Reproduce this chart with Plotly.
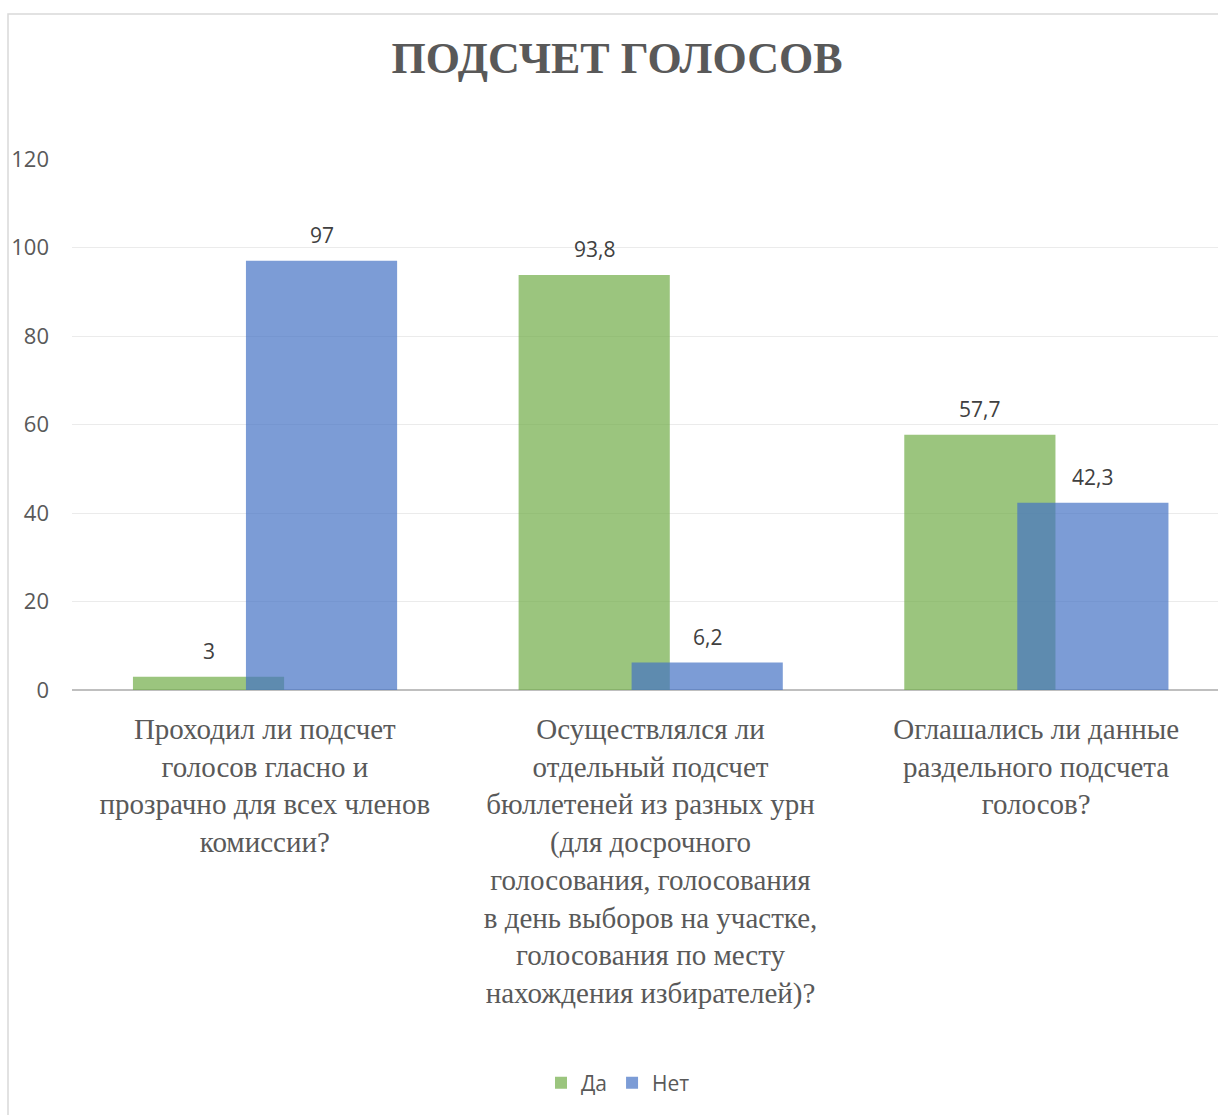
import plotly.graph_objects as go

categories = [
    "Проходил ли подсчет<br>голосов гласно и<br>прозрачно для всех членов<br>комиссии?",
    "Осуществлялся ли<br>отдельный подсчет<br>бюллетеней из разных урн<br>(для досрочного<br>голосования, голосования<br>в день выборов на участке,<br>голосования по месту<br>нахождения избирателей)?",
    "Оглашались ли данные<br>раздельного подсчета<br>голосов?",
]
yes_values = [3, 93.8, 57.7]
no_values = [97, 6.2, 42.3]
series_names = ["Да", "Нет"]
y_ticks = [0, 20, 40, 60, 80, 100, 120]

W, H = 1218, 1115
L, R, T, B = 72, 0, 159, 425

bar_w = 0.392
yes_off = -0.342
no_off = -0.049

def fmt(v):
    s = ("%g" % v)
    return s.replace(".", ",")

xs = list(range(len(categories)))

fig = go.Figure()
fig.add_trace(go.Bar(
    name=series_names[0], x=xs, y=yes_values,
    width=bar_w, offset=yes_off,
    marker=dict(color="rgba(112,173,71,0.7)", line=dict(width=0)),
))
fig.add_trace(go.Bar(
    name=series_names[1], x=xs, y=no_values,
    width=bar_w, offset=no_off,
    marker=dict(color="rgba(68,114,196,0.7)", line=dict(width=0)),
))

annotations = []
for vals, off in ((yes_values, yes_off), (no_values, no_off)):
    for i, v in enumerate(vals):
        annotations.append(dict(
            x=i + off + bar_w / 2, y=v, xref="x", yref="y",
            text=fmt(v), showarrow=False, yanchor="bottom", yshift=10,
            font=dict(family="Open Sans", size=21, color="#404040"),
        ))

# plot end slightly cropped on the right
x_right = 2.5 - 11 / 385.5

fig.update_layout(
    width=W, height=H,
    margin=dict(l=L, r=R, t=T, b=B, autoexpand=False),
    paper_bgcolor="white", plot_bgcolor="white",
    barmode="overlay",
    title=dict(
        text="<b>ПОДСЧЕТ ГОЛОСОВ</b>",
        x=617 / W, xanchor="center", y=1 - 58 / H, yanchor="middle",
        font=dict(family="Liberation Serif", size=44, color="#595959"),
    ),
    xaxis=dict(
        range=[-0.5, x_right], tickmode="array", tickvals=xs, ticktext=categories,
        showgrid=False, zeroline=False, showline=False, ticks="",
        ticklabelstandoff=19,
        tickfont=dict(family="Liberation Serif", size=29, color="#595959"),
        fixedrange=True,
    ),
    yaxis=dict(
        range=[0, 120], tickmode="array", tickvals=y_ticks,
        showgrid=True, gridcolor="#EBEBEB", gridwidth=1,
        zeroline=True, zerolinecolor="#BFBFBF", zerolinewidth=2,
        showline=False, ticks="", ticklabelstandoff=22,
        tickfont=dict(family="Open Sans", size=22, color="#595959"),
    ),
    legend=dict(
        orientation="h", x=(618 - L) / (W - L), xanchor="center",
        y=(690 - 1083) / 531, yanchor="middle",
        font=dict(family="Open Sans", size=21, color="#595959"),
        itemwidth=30, traceorder="normal",
    ),
    annotations=annotations,
    showlegend=True,
    shapes=[dict(
        type="rect", xref="paper", yref="paper",
        x0=(8 - L) / (W - L), x1=1.05,
        y0=(690 - 1140) / 531, y1=(690 - 14) / 531,
        line=dict(color="#D9D9D9", width=1.5), fillcolor="rgba(0,0,0,0)",
        layer="below",
    )],
)

fig.write_html("out.html", config={"displayModeBar": False},
               post_script="document.body.style.margin='0';")
